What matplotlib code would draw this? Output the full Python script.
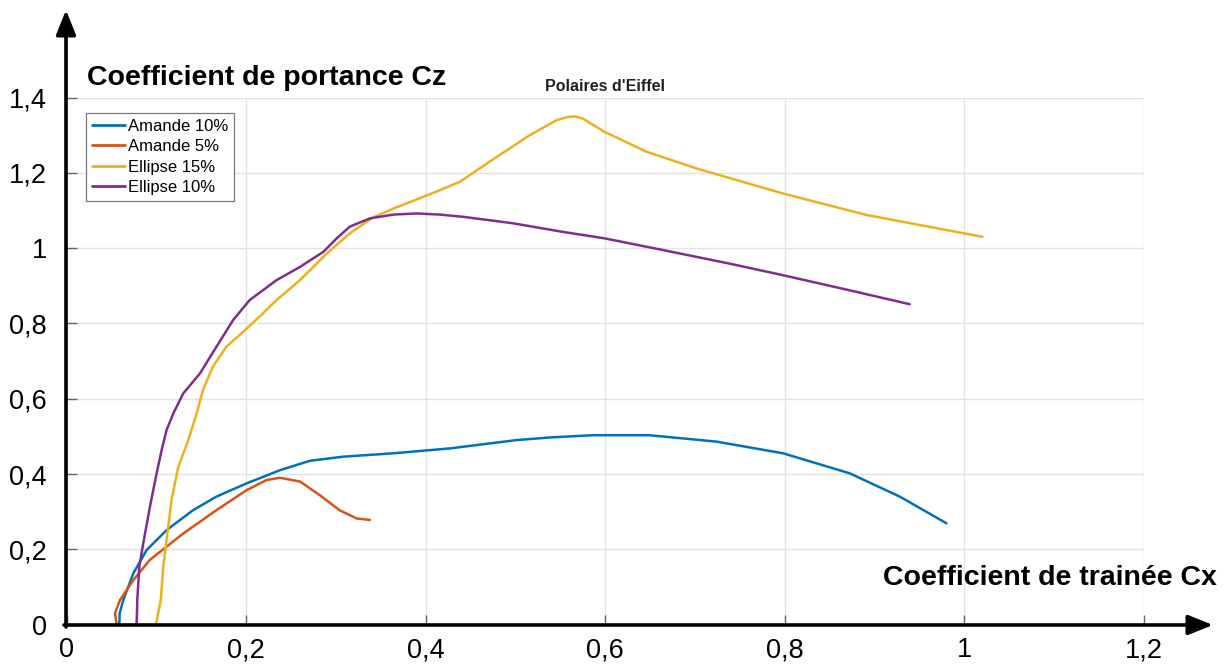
import matplotlib
matplotlib.use("Agg")
import matplotlib.pyplot as plt
from matplotlib.patches import FancyArrowPatch

plt.rcParams['font.family'] = ['Liberation Sans', 'DejaVu Sans']

# ---- data ----
amande10_x = [0.0588, 0.0592, 0.0632, 0.0744, 0.0892, 0.1115, 0.141, 0.167, 0.2005, 0.2376,
              0.271, 0.308, 0.364, 0.427, 0.501, 0.538, 0.586, 0.649, 0.724, 0.798, 0.872,
              0.928, 0.980]
amande10_y = [0.0, 0.03, 0.065, 0.136, 0.198, 0.251, 0.304, 0.340, 0.375, 0.410,
              0.435, 0.446, 0.455, 0.468, 0.490, 0.497, 0.503, 0.503, 0.486, 0.455, 0.402,
              0.340, 0.269]

amande5_x = [0.0558, 0.054, 0.0595, 0.0744, 0.0929, 0.130, 0.167, 0.2005, 0.2228, 0.2376,
             0.260, 0.282, 0.304, 0.323, 0.338]
amande5_y = [0.0, 0.03, 0.065, 0.118, 0.172, 0.242, 0.304, 0.357, 0.384, 0.390,
             0.380, 0.344, 0.304, 0.282, 0.278]

ellipse15_x = [0.0996, 0.105, 0.1078, 0.1115, 0.117, 0.1245, 0.1356, 0.145, 0.152, 0.163,
               0.178, 0.197, 0.215, 0.234, 0.260, 0.290, 0.3155, 0.341, 0.364, 0.393,
               0.416, 0.438, 0.479, 0.516, 0.546, 0.558, 0.566, 0.575, 0.599, 0.646,
               0.701, 0.798, 0.891, 1.020]
ellipse15_y = [0.0, 0.065, 0.154, 0.225, 0.331, 0.419, 0.490, 0.561, 0.623, 0.685,
               0.738, 0.778, 0.818, 0.862, 0.915, 0.986, 1.039, 1.081, 1.105, 1.132,
               1.154, 1.176, 1.242, 1.300, 1.340, 1.348, 1.350, 1.344, 1.309, 1.256,
               1.212, 1.145, 1.088, 1.030]

ellipse10_x = [0.078, 0.0785, 0.0788, 0.0811, 0.0855, 0.0929, 0.1004, 0.106, 0.1115, 0.119,
               0.130, 0.1486, 0.167, 0.1856, 0.204, 0.234, 0.260, 0.286, 0.301, 0.3155,
               0.338, 0.364, 0.390, 0.416, 0.442, 0.497, 0.553, 0.599, 0.664, 0.738,
               0.798, 0.872, 0.939]
ellipse10_y = [0.0, 0.03, 0.065, 0.154, 0.216, 0.313, 0.402, 0.464, 0.517, 0.561,
               0.614, 0.667, 0.738, 0.809, 0.862, 0.915, 0.950, 0.990, 1.026, 1.057,
               1.079, 1.089, 1.092, 1.089, 1.083, 1.066, 1.043, 1.026, 0.995, 0.959,
               0.928, 0.888, 0.851]

series_labels = ['Amande 10%', 'Amande 5%', 'Ellipse 15%', 'Ellipse 10%']
series_colors = ['#0072BD', '#D95319', '#EDB120', '#7E2F8E']

x_ticks = [0, 0.2, 0.4, 0.6, 0.8, 1.0, 1.2]
x_ticklabels = ['0', '0,2', '0,4', '0,6', '0,8', '1', '1,2']
y_ticks = [0, 0.2, 0.4, 0.6, 0.8, 1.0, 1.2, 1.4]
y_ticklabels = ['0', '0,2', '0,4', '0,6', '0,8', '1', '1,2', '1,4']

title = "Polaires d'Eiffel"
ylabel = "Coefficient de portance Cz"
xlabel = "Coefficient de trainée Cx"

# ---- figure ----
W, H = 1226, 665
fig = plt.figure(figsize=(W / 100, H / 100), dpi=100)
x0, x1 = 66.5, 1144.0
y0, y1 = 624.6, 97.5
ax = fig.add_axes([x0 / W, (H - y0) / H, (x1 - x0) / W, (y0 - y1) / H])

series = [(amande10_x, amande10_y), (amande5_x, amande5_y),
          (ellipse15_x, ellipse15_y), (ellipse10_x, ellipse10_y)]
for (xs, ys), lab, col in zip(series, series_labels, series_colors):
    ax.plot(xs, ys, color=col, lw=1.8, label=lab, solid_capstyle='round',
            solid_joinstyle='round', clip_on=False)

ax.set_xlim(0, 1.2)
ax.set_ylim(0, 1.4)
ax.set_xticks(x_ticks)
ax.set_xticklabels(x_ticklabels)
ax.set_yticks(y_ticks)
ax.set_yticklabels(y_ticklabels)
ax.grid(True, color='#e3e3e3', lw=1.0)
ax.set_axisbelow(True)
for s in ax.spines.values():
    s.set_visible(False)
ax.tick_params(axis='both', direction='in', length=7, width=1, color='#666666',
               labelsize=19.5, labelcolor='black')
ax.tick_params(axis='y', pad=14)
ax.tick_params(axis='x', pad=9)

ax.set_title(title, fontsize=11.5, fontweight='bold', color='#222222', pad=5)

leg = ax.legend(loc='upper left', bbox_to_anchor=(0.018, 0.971), fontsize=12,
                frameon=True, fancybox=False, edgecolor='#777777', framealpha=1,
                handlelength=2.0, handletextpad=0.2, labelspacing=0.33,
                borderpad=0.35, borderaxespad=0)
leg.get_frame().set_linewidth(0.9)
for line in leg.get_lines():
    line.set_linewidth(2.0)

# axis arrows (in pixel-based figure coordinates)
def fx(px):
    return px / W

def fy(py):
    return (H - py) / H

arrow_style = '-|>,head_length=0.75,head_width=0.3'
ya = FancyArrowPatch((fx(66), fy(627)), (fx(66), fy(10)), transform=fig.transFigure,
                     arrowstyle=arrow_style, mutation_scale=20, lw=2.6, color='black',
                     shrinkA=0, shrinkB=0)
xa = FancyArrowPatch((fx(64), fy(625)), (fx(1213), fy(625)), transform=fig.transFigure,
                     arrowstyle=arrow_style, mutation_scale=20, lw=2.6, color='black',
                     shrinkA=0, shrinkB=0)
fig.add_artist(ya)
fig.add_artist(xa)

fig.text(fx(87), fy(85), ylabel, fontsize=20.5, fontweight='bold', ha='left', va='baseline')
fig.text(fx(1217), fy(585), xlabel, fontsize=20.5, fontweight='bold', ha='right', va='baseline')

fig.savefig('out.png', dpi=100, facecolor='white')
